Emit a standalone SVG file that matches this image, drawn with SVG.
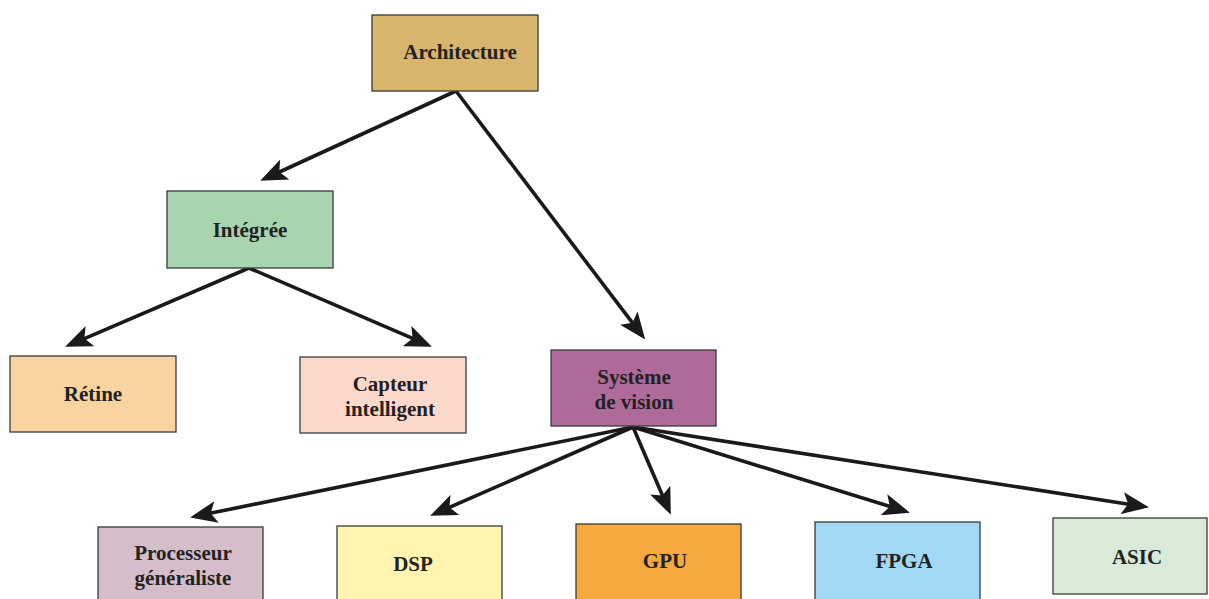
<svg xmlns="http://www.w3.org/2000/svg" width="1209" height="599" viewBox="0 0 1209 599">
<style>
.box{stroke:#3a3a3a;stroke-width:1.3}
.t{font-family:"Liberation Serif",serif;font-weight:bold;font-size:21px;fill:#222;text-anchor:middle}
.c{stroke:#1a1a1a;stroke-width:3.6;fill:none;marker-end:url(#ah)}
</style>
<defs>
<marker id="ah" viewBox="0 0 27 22" refX="13" refY="11" markerWidth="27" markerHeight="22" markerUnits="userSpaceOnUse" orient="auto">
<path d="M0,0 L27,11 L0,22 L6,11 z" fill="#1a1a1a"/>
</marker>
</defs>
<rect width="1209" height="599" fill="#fff"/>
<g id="connectors">
<line class="c" x1="456" y1="91" x2="272.9" y2="175"/>
<line class="c" x1="456" y1="91" x2="636.7" y2="328.4"/>
<line class="c" x1="249" y1="268" x2="78" y2="341.3"/>
<line class="c" x1="249" y1="268" x2="419" y2="341.2"/>
<line class="c" x1="633" y1="427" x2="203.8" y2="514.6"/>
<line class="c" x1="633" y1="427" x2="443" y2="510.2"/>
<line class="c" x1="633" y1="427" x2="665.3" y2="502"/>
<line class="c" x1="633" y1="427" x2="896.5" y2="508.5"/>
<line class="c" x1="633" y1="427" x2="1135.1" y2="505.2"/>
</g>
<g id="architecture"><rect class="box" x="372" y="15" width="166" height="76" fill="#D8B46C"/><text class="t" x="460" y="59">Architecture</text></g>
<g id="integree"><rect class="box" x="167" y="191" width="166" height="77" fill="#A8D5B0"/><text class="t" x="250" y="237">Intégrée</text></g>
<g id="retine"><rect class="box" x="10" y="356" width="166" height="76" fill="#F9D4A1"/><text class="t" x="93" y="401">Rétine</text></g>
<g id="capteur"><rect class="box" x="300" y="357" width="166" height="76" fill="#FDD9CC"/><text class="t" x="390" y="391">Capteur</text><text class="t" x="390" y="416">intelligent</text></g>
<g id="systeme"><rect class="box" x="551" y="350" width="165" height="76" fill="#AE6A99"/><text class="t" x="634" y="384">Système</text><text class="t" x="634" y="409">de vision</text></g>
<g id="processeur"><rect class="box" x="98" y="527" width="165" height="80" fill="#D5BDCA"/><text class="t" x="183" y="560">Processeur</text><text class="t" x="183" y="585">généraliste</text></g>
<g id="dsp"><rect class="box" x="337" y="526" width="165" height="80" fill="#FFF5B0"/><text class="t" x="413" y="571">DSP</text></g>
<g id="gpu"><rect class="box" x="576" y="524" width="165" height="80" fill="#F6A93E"/><text class="t" x="665" y="568">GPU</text></g>
<g id="fpga"><rect class="box" x="815" y="522" width="165" height="80" fill="#A2D8F5"/><text class="t" x="904" y="568">FPGA</text></g>
<g id="asic"><rect class="box" x="1053" y="518" width="154" height="76" fill="#D9EBD8"/><text class="t" x="1137" y="564">ASIC</text></g>
</svg>
